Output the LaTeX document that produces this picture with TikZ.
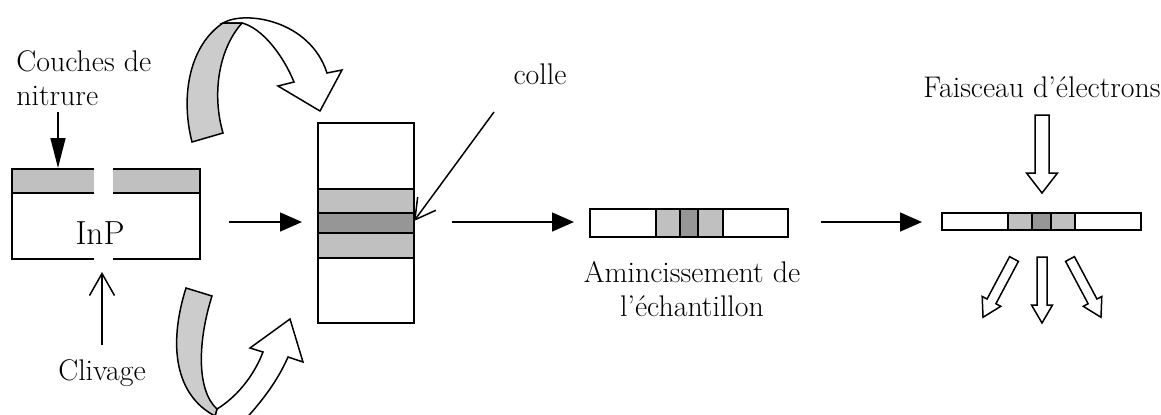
\documentclass[tikz,border=0pt]{standalone}
\usepackage{fontspec}
\usepackage{tikz}
\usetikzlibrary{positioning,arrows.meta}
\definecolor{layergray}{HTML}{C0C0C0}
\definecolor{gluegray}{HTML}{969696}
\definecolor{ribbongray}{HTML}{CCCCCC}

\begin{document}
\begin{tikzpicture}[
    x=0.02cm, y=-0.02cm,
    lbl/.style={inner sep=0pt, font=\fontsize{17}{18.8}\selectfont},
    wall/.style={draw=black, line width=1.1pt},
    conn/.style={draw=black, line width=0.85pt},
    solidtip/.style={-{Triangle[length=4.4mm,width=3.8mm]}},
    opentip/.style={-{Straight Barb[length=4.4mm,width=5mm]}},
    bigarrow/.style={draw=black, line width=0.85pt, fill=white, line join=miter},
    ribbon/.style={draw=black, line width=0.85pt, fill=ribbongray}
  ]
  \useasboundingbox (0,0) rectangle (1161,414);
  \clip (0,0) rectangle (1161,414);

  % InP wafer with the nitride layer
  \fill[layergray] (12,169) rectangle (94,193);
  \fill[layergray] (113,169) rectangle (200,193);
  \draw[wall] (94,169) -- (12,169) -- (12,259) -- (62,259);
  \draw[wall] (113,169) -- (200,169) -- (200,259) -- (185,259);
  \draw[wall] (12,193) -- (94,193) (113,193) -- (200,193);
  \draw[line width=0.6pt] (62,259) -- (94,259) (113,259) -- (185,259);
  \node[inner sep=0pt, font=\fontsize{19}{22}\selectfont] (inp) at (100,233) {InP};

  \node[lbl, anchor=base west, align=left] (nitrure) at (16,105) {Couches de\\nitrure};
  \coordinate (nitrure-from) at (58,112);
  \coordinate (nitrure-to) at (58,168);
  \draw[conn, -{Triangle[length=6mm,width=3mm]}] (nitrure-from) -- (nitrure-to);

  \node[lbl, anchor=base] (clivage) at (102,380) {Clivage};
  \coordinate (clivage-from) at (102,345);
  \coordinate (clivage-to) at (102,272);
  \draw[conn, opentip] (clivage-from) -- (clivage-to);

  % glued stack
  \draw[wall] (318,123) rectangle (414,189);
  \draw[wall, fill=layergray] (318,189) rectangle (414,213);
  \draw[wall, fill=gluegray] (318,213) rectangle (414,233);
  \draw[wall, fill=layergray] (318,233) rectangle (414,258);
  \draw[wall] (318,258) rectangle (414,323);

  \node[lbl, anchor=base] (colle) at (540,84) {colle};
  \coordinate (colle-from) at (494,112);
  \coordinate (colle-to) at (414,221);
  \draw[conn, -{Straight Barb[length=4mm,width=4.5mm]}] (colle-from) -- (colle-to);

  % turning arrows
  \draw[bigarrow] (223,23) .. controls (245,10) and (310,20) .. (327,73) -- (342,70) -- (320,111) -- (278,86) -- (294,82) .. controls (283,55) and (262,28) .. (242,23) -- cycle;
  \draw[ribbon] (192,142) -- (223,133) .. controls (212,95) and (218,50) .. (242,23) -- (223,23) .. controls (190,45) and (180,95) .. (192,142) -- cycle;
  \draw[bigarrow] (217,409) .. controls (235,398) and (253,378) .. (263,352) -- (250,348) -- (290,319) -- (303,362) -- (288,357) .. controls (278,380) and (262,402) .. (240,425) -- (215,416) -- cycle;
  \draw[ribbon] (186,288) -- (212,296) .. controls (198,340) and (196,390) .. (217,409) -- (215,416) .. controls (175,395) and (168,345) .. (186,288) -- cycle;

  % thinned sample
  \draw[wall] (590,209) rectangle (656,237);
  \draw[wall, fill=layergray] (656,209) rectangle (680,237);
  \draw[wall, fill=gluegray] (680,209) rectangle (698,237);
  \draw[wall, fill=layergray] (698,209) rectangle (723,237);
  \draw[wall] (723,209) rectangle (788,237);
  \node[lbl, anchor=base, align=center] (aminc) at (692,316) {Amincissement de\\l’échantillon};

  % sample under the beam
  \draw[wall] (942,213) rectangle (1008,230);
  \draw[wall, fill=layergray] (1008,213) rectangle (1032,230);
  \draw[wall, fill=gluegray] (1032,213) rectangle (1051,230);
  \draw[wall, fill=layergray] (1051,213) rectangle (1075,230);
  \draw[wall] (1075,213) rectangle (1141,230);
  \node[lbl, anchor=base] (faisceau) at (1042,97) {Faisceau d’électrons};
  \draw[bigarrow, shift={(1042,115)}] (-7,0) -- (7,0) -- (7,58) -- (15.5,58) -- (0,78) -- (-15.5,58) -- (-7,58) -- cycle;
  \foreach \sx/\sy/\ang in {1014/259/-28, 1042/257/0, 1070/259/28}
    \draw[bigarrow, shift={(\sx,\sy)}, rotate=\ang] (-5,0) -- (5,0) -- (5,48) -- (10.5,48) -- (0,66) -- (-10.5,48) -- (-5,48) -- cycle;

  % process arrows
  \coordinate (wafer-out) at (229,222);
  \coordinate (stack-in) at (302,222);
  \coordinate (stack-out) at (452,222);
  \coordinate (thin-in) at (574,222);
  \coordinate (thin-out) at (821,222);
  \coordinate (beam-in) at (922,222);
  \draw[conn, solidtip] (wafer-out) -- (stack-in);
  \draw[conn, solidtip] (stack-out) -- (thin-in);
  \draw[conn, solidtip] (thin-out) -- (beam-in);
\end{tikzpicture}
\end{document}
